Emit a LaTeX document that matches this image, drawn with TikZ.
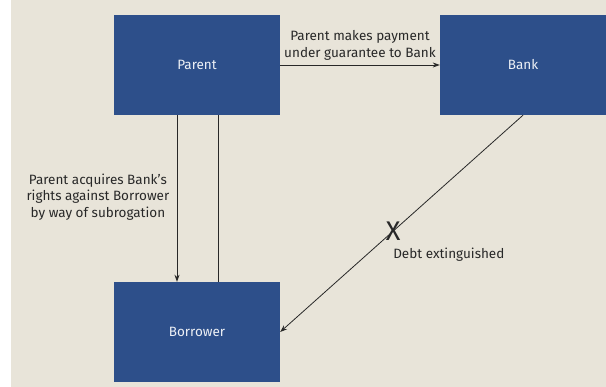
\documentclass[tikz,border=0pt]{standalone}
\usepackage{fontspec}
\setmainfont{Fira Sans}
\usepackage{xcolor}
\usepackage{tikz}
\usetikzlibrary{arrows.meta,positioning}
\definecolor{boxblue}{RGB}{45,79,138}
\definecolor{paper}{RGB}{232,228,217}
\definecolor{ink}{RGB}{40,40,40}
\tikzset{
  party/.style={fill=boxblue,text=white!92!boxblue,minimum width=166pt,minimum height=100pt,font=\fontsize{13.5}{16}\selectfont},
  lbl/.style={text=ink,align=center,font=\fontsize{13.5}{16.5}\selectfont},
  link/.style={ink,line width=0.8pt}
}
\begin{document}
\begin{tikzpicture}[x=1pt,y=-1pt,>={Stealth[length=7pt,width=5pt]}]
\useasboundingbox (0,0) rectangle (606,387);
\fill[paper](11,0)rectangle(606,387);
\node[party] (parent) at (197,65) {Parent};
\node[party] (bank) at (523,65) {Bank};
\node[party] (borrower) at (197,332) {Borrower};
\draw[link,->](parent)--(bank)node[lbl,midway,above=1pt]{Parent makes payment\\under guarantee to Bank};
\draw[link,->]([xshift=-20pt]parent.south)--([xshift=-20pt]borrower.north)node[lbl,pos=0.49,left=4pt]{Parent acquires Bank's\\rights against Borrower\\by way of subrogation};
\draw[link]([xshift=21pt]parent.south)--([xshift=21pt]borrower.north);
\draw[link,->](bank.south)--(borrower.east)node[pos=0.535,inner sep=0pt,text=ink,font=\fontsize{27}{27}\selectfont](xmark){X};
\node[lbl,anchor=north west,inner sep=0pt] (extinct) at ([yshift=-17pt]xmark.center) {Debt extinguished};
\end{tikzpicture}
\end{document}
